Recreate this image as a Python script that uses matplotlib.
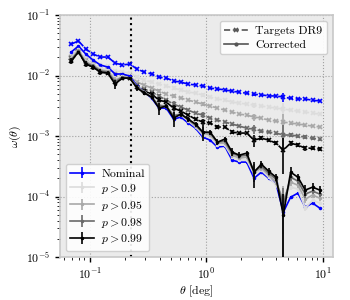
import matplotlib
matplotlib.use("Agg")
import matplotlib.pyplot as plt
import numpy as np
from matplotlib.lines import Line2D

plt.rcParams.update({
    "font.family": "serif",
    "font.serif": ["cmr10"],
    "mathtext.fontset": "cm",
    "axes.formatter.use_mathtext": True,
    "font.size": 8.5,
})

theta = [0.0692, 0.0799, 0.0924, 0.1067, 0.1233, 0.1425, 0.1647, 0.1903, 0.2200, 0.2542,
         0.2937, 0.3394, 0.3922, 0.4532, 0.5237, 0.6051, 0.6992, 0.8080, 0.9337, 1.079,
         1.247, 1.441, 1.665, 1.924, 2.223, 2.569, 2.968, 3.430, 3.963, 4.580,
         5.292, 6.115, 7.066, 8.165, 9.435]

# Targets DR9 (dashed)
tgt_nominal = [0.0331, 0.0372, 0.0274, 0.0226, 0.0202, 0.0202, 0.0161, 0.0149, 0.0155, 0.0128,
               0.0114, 0.0106, 0.0094, 0.0091, 0.0081, 0.0078, 0.0072, 0.0070, 0.0067, 0.0062,
               0.0060, 0.0058, 0.0055, 0.0053, 0.0051, 0.0049, 0.0048, 0.0046, 0.0046, 0.0044,
               0.0042, 0.0041, 0.0041, 0.0039, 0.0038]
tgt_p90 = [0.0210, 0.0274, 0.0195, 0.0167, 0.0149, 0.0143, 0.0119, 0.0114, 0.0110, 0.00943,
           0.00841, 0.00780, 0.00722, 0.00669, 0.00620, 0.00575, 0.00533, 0.00513, 0.00475, 0.00440,
           0.00408, 0.00393, 0.00364, 0.00350, 0.00337, 0.00325, 0.00313, 0.00301, 0.00290, 0.00279,
           0.00268, 0.00258, 0.00249, 0.00239, 0.00230]
tgt_p95 = [0.0202, 0.0264, 0.0180, 0.0155, 0.0133, 0.0128, 0.0106, 0.0102, 0.00943, 0.00780,
           0.00695, 0.00620, 0.00553, 0.00494, 0.00457, 0.00424, 0.00393, 0.00364, 0.00337, 0.00313,
           0.00290, 0.00268, 0.00249, 0.00230, 0.00222, 0.00206, 0.00198, 0.00183, 0.00177, 0.00170,
           0.00164, 0.00158, 0.00152, 0.00146, 0.00141]
tgt_p98 = [0.0195, 0.0254, 0.0167, 0.0149, 0.0123, 0.0119, 0.00908, 0.00943, 0.00908, 0.00695,
           0.00597, 0.00533, 0.00457, 0.00393, 0.00337, 0.00301, 0.00268, 0.00239, 0.00222, 0.00198,
           0.00183, 0.00170, 0.00158, 0.00146, 0.00135, 0.00130, 0.00121, 0.00116, 0.00112, 0.00104,
           0.00104, 0.00100, 0.00096, 0.00092, 0.00089]
tgt_p99 = [0.0174, 0.0244, 0.0155, 0.0138, 0.0114, 0.0110, 0.00780, 0.00908, 0.00908, 0.00644,
           0.00553, 0.00494, 0.00393, 0.00364, 0.00290, 0.00258, 0.00222, 0.00190, 0.00170, 0.00164,
           0.00141, 0.00141, 0.00116, 0.00112, 0.00112, 0.000856, 0.000924, 0.000856, 0.000764, 0.000585,
           0.000764, 0.000708, 0.000631, 0.000631, 0.000608]

# Corrected (solid)
cor_nominal = [0.0244, 0.0307, 0.0226, 0.0180, 0.0149, 0.0138, 0.0106, 0.0106, 0.0098, 0.00669,
               0.00533, 0.00424, 0.00290, 0.00290, 0.00190, 0.00206, 0.00164, 0.00135, 0.00096, 0.000856,
               0.000656, 0.000681, 0.000400, 0.000371, 0.000371, 0.000201, 0.000253, 0.000201, 0.000166, 5.52e-5,
               9.77e-5, 0.000114, 6.69e-5, 7.81e-5, 6.44e-5]
cor_p90 = [0.0195, 0.0274, 0.0174, 0.0155, 0.0133, 0.0123, 0.00908, 0.0098, 0.00908, 0.00644,
           0.00533, 0.00440, 0.00325, 0.00313, 0.00222, 0.00222, 0.00177, 0.00141, 0.00104, 0.00096,
           0.000708, 0.000708, 0.000449, 0.000400, 0.000400, 0.000235, 0.000273, 0.000209, 0.000154, 9.77e-5,
           0.000143, 0.000133, 6.44e-5, 8.72e-5, 7.81e-5]
cor_p95 = [0.0187, 0.0264, 0.0167, 0.0149, 0.0123, 0.0119, 0.00841, 0.00943, 0.00908, 0.00644,
           0.00533, 0.00440, 0.00325, 0.00313, 0.00222, 0.00230, 0.00183, 0.00146, 0.00112, 0.00104,
           0.000764, 0.000764, 0.000484, 0.000431, 0.000449, 0.000253, 0.000295, 0.000226, 0.000173, 8.72e-5,
           0.000173, 0.000154, 9.06e-5, 0.000106, 9.41e-5]
cor_p98 = [0.0180, 0.0254, 0.0161, 0.0143, 0.0119, 0.0114, 0.00780, 0.00943, 0.00908, 0.00644,
           0.00533, 0.00440, 0.00313, 0.00313, 0.00214, 0.00230, 0.00190, 0.00152, 0.00116, 0.00112,
           0.000794, 0.000824, 0.000522, 0.000466, 0.000484, 0.000263, 0.000318, 0.000244, 0.000194, 7.21e-5,
           0.000209, 0.000180, 0.000110, 0.000123, 0.000110]
cor_p99 = [0.0174, 0.0244, 0.0155, 0.0138, 0.0114, 0.0110, 0.00722, 0.00908, 0.00908, 0.00620,
           0.00513, 0.00440, 0.00290, 0.00313, 0.00198, 0.00230, 0.00190, 0.00158, 0.00116, 0.00116,
           0.000794, 0.000890, 0.000542, 0.000484, 0.000522, 0.000253, 0.000343, 0.000263, 0.000209, 4.93e-5,
           0.000253, 0.000209, 0.000128, 0.000143, 0.000128]

# relative error of the strictest cut, and error scale of each sample
relerr_p99 = [0.12, 0.05, 0.12, 0.10, 0.12, 0.06, 0.18, 0.06, 0.06, 0.12,
              0.08, 0.08, 0.22, 0.08, 0.28, 0.10, 0.10, 0.10, 0.28, 0.10,
              0.12, 0.10, 0.15, 0.12, 0.10, 0.45, 0.15, 0.12, 0.15, 1.20,
              0.20, 0.15, 0.20, 0.15, 0.15]
err_scale = [0.3, 0.45, 0.6, 0.75, 1.0]

labels = ["Nominal", r"$p > 0.9$", r"$p > 0.95$", r"$p > 0.98$", r"$p > 0.99$"]
colors = ["blue", "#dcdcdc", "#a8a8a8", "#6a6a6a", "black"]
tgt_all = [tgt_nominal, tgt_p90, tgt_p95, tgt_p98, tgt_p99]
cor_all = [cor_nominal, cor_p90, cor_p95, cor_p98, cor_p99]
theta_cut = 0.227

fig = plt.figure(figsize=(3.5, 3.0), dpi=100)
ax = fig.add_axes([0.171, 0.143, 0.78, 0.807])
ax.set_facecolor("#ebebeb")
for s in ax.spines.values():
    s.set_color("#c8c8c8")
    s.set_linewidth(1.2)

t = np.array(theta)
rel = np.array(relerr_p99)
handles = []
for i in range(5):
    tg = np.array(tgt_all[i])
    co = np.array(cor_all[i])
    z = 2 + i
    ax.errorbar(t, tg, yerr=tg * rel * err_scale[i] * 0.5, color=colors[i], ls="--", marker="x",
                ms=2.5, mew=1.2, lw=1.2, elinewidth=1.2, capsize=0, zorder=z)
    h = ax.errorbar(t, co, yerr=co * rel * err_scale[i], color=colors[i], ls="-", marker=".",
                    ms=3, lw=1.2, elinewidth=1.2, capsize=0, zorder=z + 5)
    handles.append(h)

ax.axvline(theta_cut, color="black", ls=":", lw=1.5, zorder=1)

ax.set_xscale("log")
ax.set_yscale("log")
ax.set_xlim(0.0553, 12.2)
ax.set_ylim(1e-5, 1e-1)
ax.grid(True, which="major", ls=":", color="#a0a0a0", lw=0.8)
ax.set_axisbelow(True)
ax.tick_params(which="both", direction="out", labelsize=8.5, color="black")
ax.tick_params(which="major", length=3.5, width=1.0)
ax.tick_params(which="minor", length=2, width=0.6)
ax.set_xlabel(r"$\theta$ [deg]", fontsize=8.5, labelpad=1)
ax.set_ylabel(r"$\omega(\theta)$", fontsize=8.5, labelpad=2)

style_handles = [Line2D([], [], color="#555555", ls="--", marker="x", ms=3, mew=1.2, lw=1.2),
                 Line2D([], [], color="#555555", ls="-", marker=".", ms=4, lw=1.2)]
leg1 = ax.legend(style_handles, ["Targets DR9", "Corrected"], loc="upper right", fontsize=8.5,
                 framealpha=0.9, edgecolor="#cccccc", handlelength=2.0, borderpad=0.4,
                 labelspacing=0.3, handletextpad=0.6)
ax.add_artist(leg1)
ax.legend(handles, labels, loc="lower left", fontsize=8.5, framealpha=0.9, edgecolor="#cccccc",
          handlelength=2.0, borderpad=0.4, labelspacing=0.25, handletextpad=0.6)

fig.savefig("out.png", dpi=100)
